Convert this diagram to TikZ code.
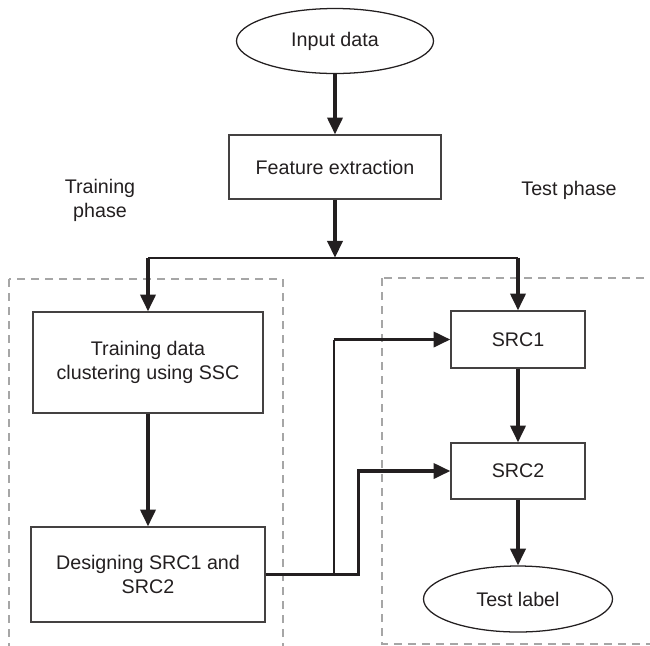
\documentclass[tikz,border=0pt]{standalone}
\usepackage{fontspec}
\setmainfont{Liberation Sans}
\usepackage{xcolor}
\usetikzlibrary{shapes,arrows.meta,positioning}

\definecolor{ink}{HTML}{231F20}

\begin{document}
\begin{tikzpicture}[
        font=\fontsize{14}{17}\selectfont, text=ink,
        block/.style={draw=ink!85, line width=0.95pt, align=center},
        oval/.style={draw=ink, ellipse, line width=0.9pt, inner sep=0pt},
        flow/.style={draw=ink, line width=2.3pt, -{Triangle[length=0.42cm,width=0.38cm]}},
        link/.style={draw=ink, line width=1.4pt},
        phase/.style={draw=black!35, line width=0.75pt, dash pattern=on 0.2cm off 0.15cm}
    ]
        \useasboundingbox (0,0) rectangle (16.25,-16.125);

        % Phase frames (run off the page edge)
        \begin{scope}
            \clip (0,0) rectangle (16.25,-16.125);
            \draw [phase] (0.225,-6.975) rectangle (7.075,-16.6);
            \draw [phase] (9.55,-6.95) rectangle (16.8,-16.1);
        \end{scope}

        % Input and features
        \node [oval, minimum width=4.925cm, minimum height=1.625cm] (input) at (8.375,-1.025) {Input data};
        \node [block, below of=input, node distance=3.15cm, minimum width=5.3cm, minimum height=1.6cm] (feature) {Feature extraction};

        % Training phase
        \node [block, below of=feature, node distance=4.8875cm, xshift=-4.675cm, minimum width=5.75cm, minimum height=2.525cm] (train) {Training data\\clustering using SSC};
        \node [block, below of=train, node distance=5.3cm, minimum width=5.85cm, minimum height=2.375cm] (design) {Designing SRC1 and\\SRC2};
        \node [above of=train, node distance=4.0625cm, xshift=-1.2cm, align=center] (trainlbl) {Training\\phase};

        % Test phase
        \node [block, below of=feature, node distance=4.3125cm, xshift=4.575cm, minimum width=3.35cm, minimum height=1.425cm] (src1) {SRC1};
        \node [block, below of=src1, node distance=3.2875cm, minimum width=3.35cm, minimum height=1.4cm] (src2) {SRC2};
        \node [oval, below of=src2, node distance=3.2cm, minimum width=4.725cm, minimum height=1.65cm] (result) {Test label};
        \node [above of=src1, node distance=3.7375cm, xshift=1.275cm] (testlbl) {Test phase};

        % Connectors
        \draw [flow] (input) -- (feature);
        \coordinate [below=1.45cm of feature] (split);
        \draw [flow] (feature) -- (split);
        \draw [link] (split -| train) -- (split -| src1);
        \draw [flow] (split -| train) -- (train);
        \draw [flow] (split -| src1) -- (src1);
        \draw [flow] (train) -- (design);
        \draw [flow] (src1) -- (src2);
        \draw [flow] (src2) -- (result);
        \draw [flow] (design.east) -- ++(2.325,0) |- (src2.west);
        \draw [link] (design.east) ++(1.7,0) coordinate (tap) -- (tap |- src1.west);
        \draw [flow] (tap |- src1.west) -- (src1.west);
    \end{tikzpicture}
\end{document}
